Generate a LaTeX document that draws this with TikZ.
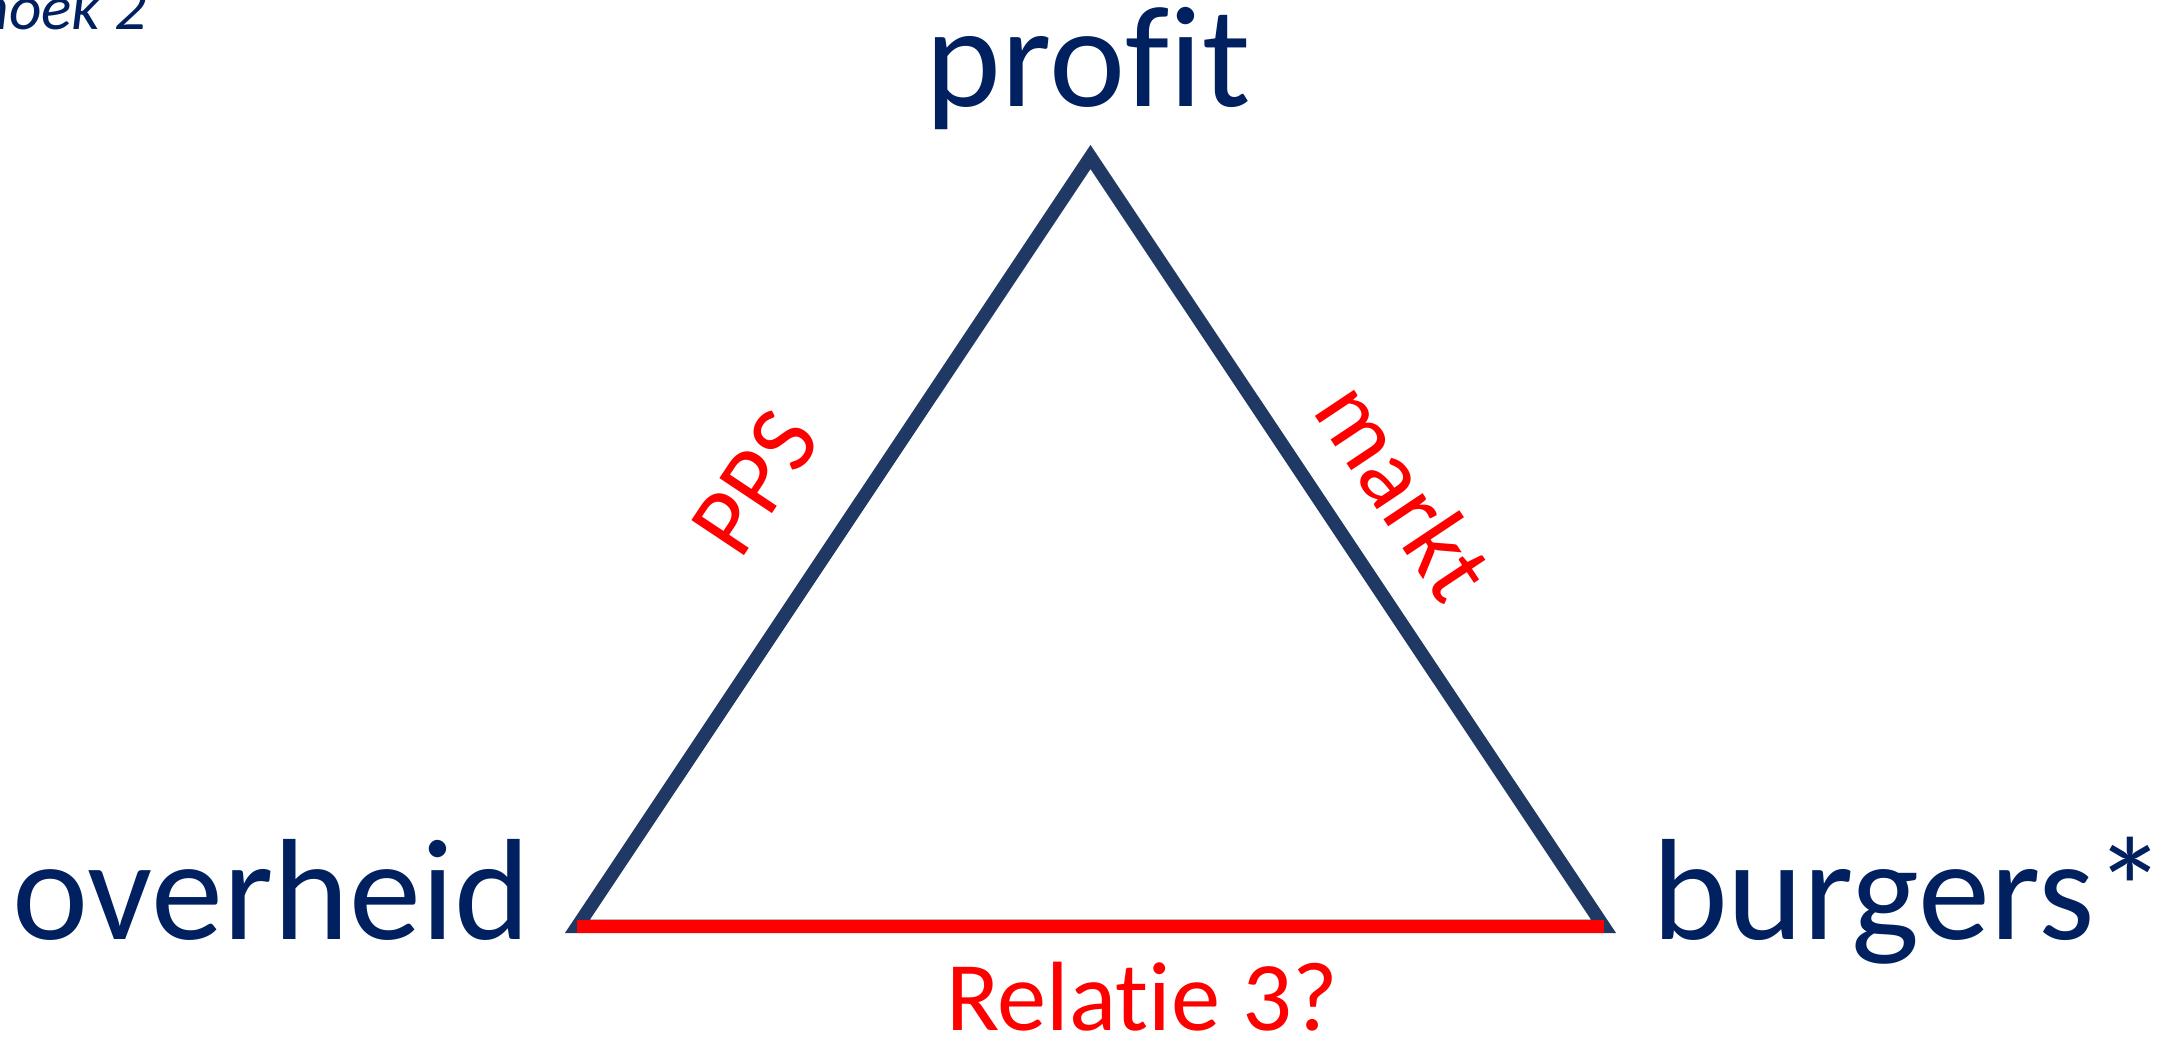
\documentclass[tikz,border=0pt]{standalone}
\usepackage{fontspec}
\setmainfont{Carlito}[Ligatures=NoCommon]
\definecolor{darkblue}{HTML}{002060}
\definecolor{edgeblue}{HTML}{203864}
\definecolor{relred}{HTML}{FF0000}
\begin{document}
\begin{tikzpicture}[x=0.01cm, y=-0.01cm,
    every node/.style={inner sep=0pt, outer sep=0pt},
    corner/.style={darkblue, font=\fontsize{41}{49}\selectfont},
    side/.style={relred, font=\fontsize{28}{34}\selectfont}]{
    \useasboundingbox (0,0) rectangle (2181,1044);
    \coordinate (T) at (1090.5,157);
    \coordinate (L) at (577.4,926.4);
    \coordinate (R) at (1603.6,926.4);

    \draw [edgeblue, line width=3.8pt, line join=miter] (T) -- (L) -- (R) -- cycle;
    \path [relred, line width=3.7pt] (L) edge (R);

    \node [corner, anchor=base] (profit) at (1088,106) {profit};
    \node [corner, anchor=base east] (overheid) at (530,939) {overheid};
    \node [corner, anchor=base west] (burgers) at (1652,939) {burgers*};

    \node [side, rotate=56.3] (pps) at (755,483) {PPS};
    \node [side, rotate=-56.3] (markt) at (1405,490) {markt};
    \node [side, anchor=base] (relatie) at (1142,1030) {Relatie 3?};

    \node [darkblue, anchor=base east, font=\fontsize{18}{22}\itshape] (hoek) at (147,29) {hoek 2};
    }
\end{tikzpicture}
\end{document}
